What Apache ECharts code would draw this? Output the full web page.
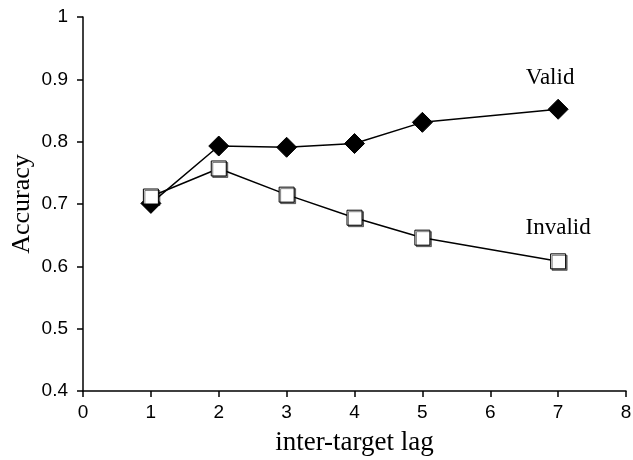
<!DOCTYPE html>
<html>
<head>
<meta charset="utf-8">
<script src="https://cdn.jsdelivr.net/npm/echarts@6/dist/echarts.min.js"></script>
<style>
  html, body { margin: 0; padding: 0; background: #fff; }
  #chart { width: 633px; height: 460px; }
</style>
</head>
<body>
<div id="chart"></div>
<script>
// inter-target lag values
var lags = [1, 2, 3, 4, 5, 7];
var validAcc = [0.701, 0.793, 0.791, 0.797, 0.831, 0.852];
var invalidAcc = [0.712, 0.757, 0.715, 0.678, 0.646, 0.608];
var xTicks = [0, 1, 2, 3, 4, 5, 6, 7, 8];
var yTicks = [0.4, 0.5, 0.6, 0.7, 0.8, 0.9, 1];

function pairs(ys) {
  return lags.map(function (x, i) { return [x, ys[i]]; });
}

function endLabel(text, off) {
  return {
    show: true,
    formatter: text,
    position: "top",
    offset: off,
    fontFamily: "Liberation Serif",
    fontSize: 23,
    color: "#000"
  };
}

var chart = echarts.init(document.getElementById("chart"));

var validData = pairs(validAcc);
var invalidData = pairs(invalidAcc);
// label only the last point of each series
validData[validData.length - 1] = {
  value: validData[validData.length - 1],
  label: endLabel("Valid", [-8, -4])
};
invalidData[invalidData.length - 1] = {
  value: invalidData[invalidData.length - 1],
  label: endLabel("Invalid", [0, -9])
};

var option = {
  animation: false,
  backgroundColor: "#fff",
  grid: { left: 83, right: 7, top: 17, bottom: 69, containLabel: false, outerBoundsMode: "none" },
  xAxis: {
    type: "value",
    min: xTicks[0],
    max: xTicks[xTicks.length - 1],
    interval: 1,
    name: "inter-target lag",
    nameLocation: "middle",
    nameGap: 38,
    nameMoveOverlap: false,
    nameTextStyle: { fontFamily: "Liberation Serif", fontSize: 27, color: "#000" },
    axisLine: { show: true, lineStyle: { color: "#000", width: 1.5 } },
    axisTick: { show: true, length: 6, lineStyle: { color: "#000", width: 1.5 } },
    axisLabel: { fontFamily: "Liberation Sans", fontSize: 19, color: "#000", margin: 12 },
    splitLine: { show: false }
  },
  yAxis: {
    type: "value",
    min: yTicks[0],
    max: yTicks[yTicks.length - 1],
    interval: 0.1,
    name: "Accuracy",
    nameLocation: "middle",
    nameGap: 48,
    nameMoveOverlap: false,
    nameRotate: 90,
    nameTextStyle: { fontFamily: "Liberation Serif", fontSize: 26, color: "#000" },
    axisLine: { show: true, lineStyle: { color: "#000", width: 1.5 } },
    axisTick: { show: true, length: 6, lineStyle: { color: "#000", width: 1.5 } },
    axisLabel: {
      fontFamily: "Liberation Sans", fontSize: 19, color: "#000", margin: 15,
      formatter: function (v) { return Math.round(v * 10) / 10 + ""; }
    },
    splitLine: { show: false }
  },
  series: [
    {
      name: "Valid",
      type: "line",
      data: validData,
      symbol: "diamond",
      symbolSize: [20, 20],
      lineStyle: { color: "#000", width: 1.5 },
      itemStyle: { color: "#000", borderColor: "#000", borderWidth: 1 },
      z: 2
    },
    {
      name: "Invalid",
      type: "line",
      data: invalidData,
      symbol: "rect",
      symbolSize: 15,
      lineStyle: { color: "#000", width: 1.5 },
      itemStyle: {
        color: "#fff", borderColor: "#000", borderWidth: 1,
        shadowColor: "rgba(0,0,0,0.5)", shadowOffsetX: 1.5, shadowOffsetY: 1.5
      },
      z: 3
    }
  ]
};

chart.setOption(option);
</script>
</body>
</html>
